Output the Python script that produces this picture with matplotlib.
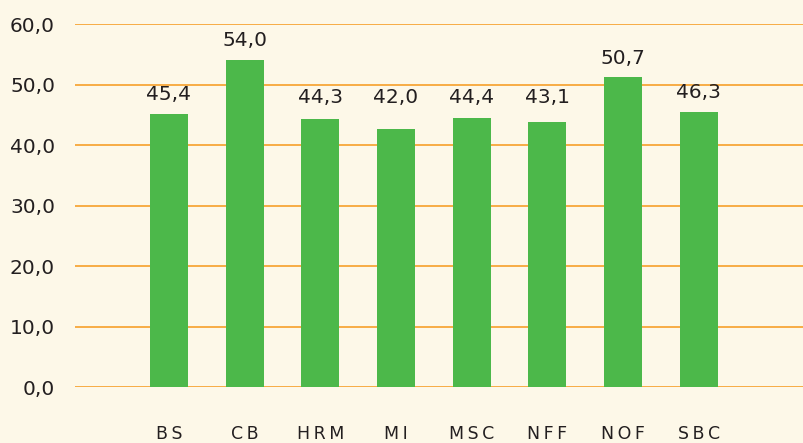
import matplotlib.pyplot as plt

categories = ['BS', 'CB', 'HRM', 'MI', 'MSC', 'NFF', 'NOF', 'SBC']
bar_heights = [45.1, 54.05, 44.3, 42.6, 44.5, 43.8, 51.2, 45.45]
bar_labels = ['45,4', '54,0', '44,3', '42,0', '44,4', '43,1', '50,7', '46,3']
yticks = [0, 10, 20, 30, 40, 50, 60]

bg = '#FDF8E8'
green = '#4CB84A'
orange = '#F7AC45'
txt = '#231F20'
fam = ['DejaVu Sans']

fig = plt.figure(figsize=(8.04, 4.43), dpi=100, facecolor=bg)
ax = fig.add_axes([0.0933, 0.1264, 0.9067, 0.8194], facecolor=bg)

x = list(range(len(categories)))
ax.bar(x, bar_heights, width=0.5, color=green, zorder=3)

for xi, h, lab in zip(x, bar_heights, bar_labels):
    ax.text(xi, max(h, 44.6) + 1.6, lab, ha='center', va='bottom',
            fontsize=14.5, color=txt, family=fam, zorder=4)

ax.set_xlim(-1.24, 8.39)
ax.set_ylim(0, 60)
ax.set_yticks(yticks)
ax.set_yticklabels([f'{v:.1f}'.replace('.', ',') for v in yticks],
                   fontsize=14.5, color=txt, family=fam)
ax.set_xticks(x)
ax.set_xticklabels(['\u2009'.join(c) for c in categories],
                   fontsize=12.5, color=txt, family=fam)
ax.tick_params(axis='y', length=0, pad=14.4)
ax.tick_params(axis='x', length=0, pad=27)
ax.grid(axis='y', color=orange, linewidth=1.4, zorder=1)
ax.set_axisbelow(True)
for s in ax.spines.values():
    s.set_visible(False)

fig.savefig('out.png', dpi=100, facecolor=bg)
